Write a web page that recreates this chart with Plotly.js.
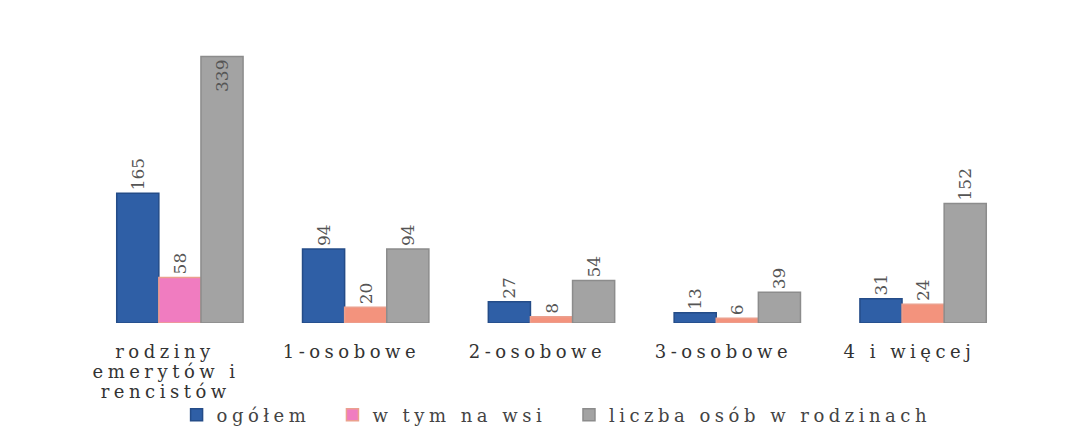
<!DOCTYPE html>
<html>
<head>
<meta charset="utf-8">
<script src="https://cdn.plot.ly/plotly-3.0.1.min.js"></script>
<style>
html,body{margin:0;padding:0;background:#fff;}
#chart{width:1090px;height:437px;}
#chart .annotation-text{letter-spacing:4.5px;}
</style>
</head>
<body>
<div id="chart"></div>
<script>
const categories = ["rodziny emerytów i rencistów", "1-osobowe", "2-osobowe", "3-osobowe", "4 i więcej"];
const categoryLabels = ["rodziny<br>emerytów i<br>rencistów", "1-osobowe", "2-osobowe", "3-osobowe", "4 i więcej"];
const seriesNames = ["ogółem", "w tym na wsi", "liczba osób w rodzinach"];
const ogolem = [165, 94, 27, 13, 31];
const naWsi = [58, 20, 8, 6, 24];
const liczbaOsob = [339, 94, 54, 39, 152];

const font = "DejaVu Serif";
function trace(name, vals, color, line, legendId, positions) {
  return {
    type: "bar", name: name, x: categories, y: vals, legend: legendId,
    text: vals.map(String), textposition: positions || "outside", textangle: -90,
    insidetextanchor: "end", constraintext: "none",
    cliponaxis: false,
    textfont: {family: font, size: 17, color: "#555"},
    marker: {color: color, line: {color: line, width: 1.5}},
    hoverinfo: "none"
  };
}
const pinkColors = naWsi.map((v, i) => i === 0 ? "#f07cc0" : "#f3937d");
const grayPositions = liczbaOsob.map((v, i) => i === 0 ? "inside" : "outside");
const data = [
  trace(seriesNames[0], ogolem, "#2f5fa6", "#244c88", "legend"),
  trace(seriesNames[1], naWsi, pinkColors, "#eba08e", "legend2"),
  trace(seriesNames[2], liczbaOsob, "#a3a3a3", "#8c8c8c", "legend3", grayPositions)
];
const annotations = [];
categories.forEach(function (c, i) {
  categoryLabels[i].split("<br>").forEach(function (line, k) {
    annotations.push({
      x: c, y: 0, xref: "x", yref: "y", yanchor: "top", xanchor: "center",
      yshift: -16 - 20 * k, xshift: -14, showarrow: false, align: "center",
      text: line,
      font: {family: font, size: 18, color: "#333"}
    });
  });
});
function legendAt(x, w) {
  return {orientation: "h", x: x, xref: "container", xanchor: "left",
    y: 0.05, yref: "container", yanchor: "middle",
    font: {family: font, size: 18, color: "#444"}, itemwidth: 30,
    entrywidth: w, entrywidthmode: "pixels", bgcolor: "rgba(0,0,0,0)"};
}
const layout = {
  width: 1090, height: 437,
  margin: {l: 87, r: 74, t: 40, b: 114},
  paper_bgcolor: "#fff", plot_bgcolor: "#fff",
  barmode: "group", bargap: 0.32, bargroupgap: 0,
  font: {family: font, size: 17, color: "#333"},
  xaxis: {showgrid: false, zeroline: false, showline: false, ticks: "", showticklabels: false},
  yaxis: {range: [0, 360], visible: false},
  annotations: annotations,
  showlegend: true,
  legend: legendAt(0.162, 120),
  legend2: legendAt(0.305, 230),
  legend3: legendAt(0.522, 380)
};
const gd = document.getElementById("chart");
function spaceLegendText() {
  gd.querySelectorAll("text").forEach(function (t) {
    if (seriesNames.indexOf(t.textContent) >= 0) t.style.setProperty("letter-spacing", "4.5px", "important");
  });
}
Plotly.newPlot(gd, data, layout, {displayModeBar: false, staticPlot: true}).then(function () {
  spaceLegendText();
  gd.on("plotly_afterplot", spaceLegendText);
  setTimeout(spaceLegendText, 50);
});
</script>
</body>
</html>
